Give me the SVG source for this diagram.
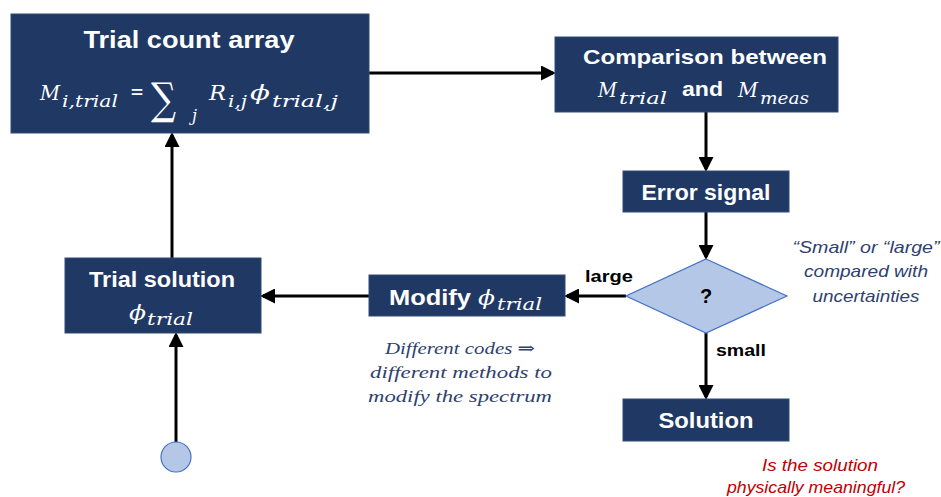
<svg xmlns="http://www.w3.org/2000/svg" width="941" height="497" viewBox="0 0 941 497">
  <style>
    .box { fill: #203864; stroke: #2f4a7a; stroke-width: 1; }
    .shape { fill: #b4c7e7; stroke: #4472c4; stroke-width: 1.2; }
    .title { font-family: "Liberation Sans", Arial, sans-serif; font-weight: bold; fill: #ffffff; }
    .math { font-family: "DejaVu Serif", "Liberation Serif", serif; font-style: italic; font-weight: normal; fill: #ffffff; }
    .lbl { font-family: "Liberation Sans", Arial, sans-serif; font-weight: bold; fill: #000000; }
    .note { font-family: "Liberation Sans", Arial, sans-serif; font-style: italic; fill: #2f3f6f; font-size: 17px; text-anchor: middle; }
    .snote { font-family: "Liberation Serif", "DejaVu Serif", serif; font-style: italic; fill: #2f3f6f; font-size: 17px; text-anchor: middle; }
    .red { font-family: "Liberation Sans", Arial, sans-serif; font-style: italic; fill: #c00000; font-size: 17px; text-anchor: middle; }
    .edge { fill: none; stroke: #000000; stroke-width: 3; marker-end: url(#arrow); }
  </style>
  <defs>
    <marker id="arrow" markerWidth="5" markerHeight="5" refX="4" refY="2.5" orient="auto" markerUnits="strokeWidth">
      <path d="M0,0 L5,2.5 L0,5 Z" fill="#000000"/>
    </marker>
  </defs>

  <rect width="941" height="497" fill="#ffffff"/>

  <!-- connectors -->
  <g id="connectors">
    <line class="edge" x1="369" y1="73" x2="553" y2="73"/>
    <line class="edge" x1="706" y1="112" x2="706" y2="169"/>
    <line class="edge" x1="706" y1="212" x2="706" y2="257"/>
    <line class="edge" x1="626" y1="296" x2="567" y2="296"/>
    <line class="edge" x1="369" y1="296" x2="263" y2="296"/>
    <line class="edge" x1="172" y1="258" x2="172" y2="135"/>
    <line class="edge" x1="176" y1="443" x2="176" y2="335"/>
    <line class="edge" x1="706" y1="333" x2="706" y2="397"/>
  </g>

  <!-- Trial count array -->
  <g id="trial-count">
    <rect class="box" x="11" y="14" width="358" height="119"/>
    <text class="title" x="189" y="48" font-size="23" text-anchor="middle" textLength="211" lengthAdjust="spacingAndGlyphs">Trial count array</text>
    <text class="math" x="40" y="100" font-size="20" textLength="20" lengthAdjust="spacingAndGlyphs">M</text>
    <text class="math" x="62" y="107" font-size="17" textLength="56" lengthAdjust="spacingAndGlyphs">i,trial</text>
    <text class="math" x="130" y="99" font-size="22" font-style="normal" textLength="14" lengthAdjust="spacingAndGlyphs">=</text>
    <text class="math" x="151" y="114" font-size="44" font-style="normal" textLength="25" lengthAdjust="spacingAndGlyphs">∑</text>
    <text class="math" x="192" y="121" font-size="16">j</text>
    <text class="math" x="209" y="100" font-size="20" textLength="17" lengthAdjust="spacingAndGlyphs">R</text>
    <text class="math" x="228" y="107" font-size="17" textLength="19" lengthAdjust="spacingAndGlyphs">i,j</text>
    <text class="math" x="250" y="100" font-size="21" textLength="20" lengthAdjust="spacingAndGlyphs">ϕ</text>
    <text class="math" x="272" y="107" font-size="17" textLength="66" lengthAdjust="spacingAndGlyphs">trial,j</text>
  </g>

  <!-- Comparison -->
  <g id="comparison">
    <rect class="box" x="555" y="37" width="283" height="75"/>
    <text class="title" x="705" y="64" font-size="21" text-anchor="middle" textLength="244" lengthAdjust="spacingAndGlyphs">Comparison between</text>
    <text class="math" x="598" y="97" font-size="20" textLength="19" lengthAdjust="spacingAndGlyphs">M</text>
    <text class="math" x="619" y="104" font-size="17" textLength="48" lengthAdjust="spacingAndGlyphs">trial</text>
    <text class="title" x="682" y="96" font-size="20" textLength="41" lengthAdjust="spacingAndGlyphs">and</text>
    <text class="math" x="738" y="97" font-size="20" textLength="20" lengthAdjust="spacingAndGlyphs">M</text>
    <text class="math" x="760" y="104" font-size="17" textLength="49" lengthAdjust="spacingAndGlyphs">meas</text>
  </g>

  <!-- Error signal -->
  <g id="error-signal">
    <rect class="box" x="623" y="171" width="166" height="41"/>
    <text class="title" x="706" y="200" font-size="22" text-anchor="middle" textLength="129" lengthAdjust="spacingAndGlyphs">Error signal</text>
  </g>

  <!-- Decision -->
  <g id="decision">
    <polygon class="shape" points="706,259 787,296 706,333 626,296"/>
    <text class="lbl" x="706" y="303" font-size="20" text-anchor="middle">?</text>
  </g>

  <!-- Modify -->
  <g id="modify">
    <rect class="box" x="369" y="275" width="196" height="41"/>
    <text class="title" x="389" y="305" font-size="22" textLength="82" lengthAdjust="spacingAndGlyphs">Modify</text>
    <text class="math" x="478" y="305" font-size="21" textLength="17" lengthAdjust="spacingAndGlyphs">ϕ</text>
    <text class="math" x="497" y="310" font-size="17" textLength="45" lengthAdjust="spacingAndGlyphs">trial</text>
  </g>

  <!-- Trial solution -->
  <g id="trial-solution">
    <rect class="box" x="65" y="258" width="196" height="75"/>
    <text class="title" x="162" y="287" font-size="22" text-anchor="middle" textLength="146" lengthAdjust="spacingAndGlyphs">Trial solution</text>
    <text class="math" x="129" y="320" font-size="21" textLength="17" lengthAdjust="spacingAndGlyphs">ϕ</text>
    <text class="math" x="147" y="325" font-size="17" textLength="46" lengthAdjust="spacingAndGlyphs">trial</text>
  </g>

  <!-- Solution -->
  <g id="solution">
    <rect class="box" x="623" y="399" width="166" height="42"/>
    <text class="title" x="706" y="428" font-size="22" text-anchor="middle" textLength="95" lengthAdjust="spacingAndGlyphs">Solution</text>
  </g>

  <!-- Start -->
  <g id="start">
    <circle class="shape" cx="176" cy="457" r="15"/>
  </g>

  <!-- branch labels -->
  <g id="branch-labels">
    <text class="lbl" x="609" y="282" font-size="17" text-anchor="middle" textLength="48" lengthAdjust="spacingAndGlyphs">large</text>
    <text class="lbl" x="741" y="356" font-size="17" text-anchor="middle" textLength="50" lengthAdjust="spacingAndGlyphs">small</text>
  </g>

  <!-- notes -->
  <g id="notes">
    <text class="note" x="866" y="253" textLength="147" lengthAdjust="spacingAndGlyphs">“Small” or “large”</text>
    <text class="note" x="866" y="277" textLength="124" lengthAdjust="spacingAndGlyphs">compared with</text>
    <text class="note" x="866" y="302" textLength="107" lengthAdjust="spacingAndGlyphs">uncertainties</text>

    <text class="snote" x="460" y="354" textLength="150" lengthAdjust="spacingAndGlyphs">Different codes ⇒</text>
    <text class="snote" x="461" y="378" textLength="182" lengthAdjust="spacingAndGlyphs">different methods to</text>
    <text class="snote" x="460" y="402" textLength="184" lengthAdjust="spacingAndGlyphs">modify the spectrum</text>

    <text class="red" x="820" y="471" textLength="116" lengthAdjust="spacingAndGlyphs">Is the solution</text>
    <text class="red" x="816" y="493" textLength="178" lengthAdjust="spacingAndGlyphs">physically meaningful?</text>
  </g>
</svg>
